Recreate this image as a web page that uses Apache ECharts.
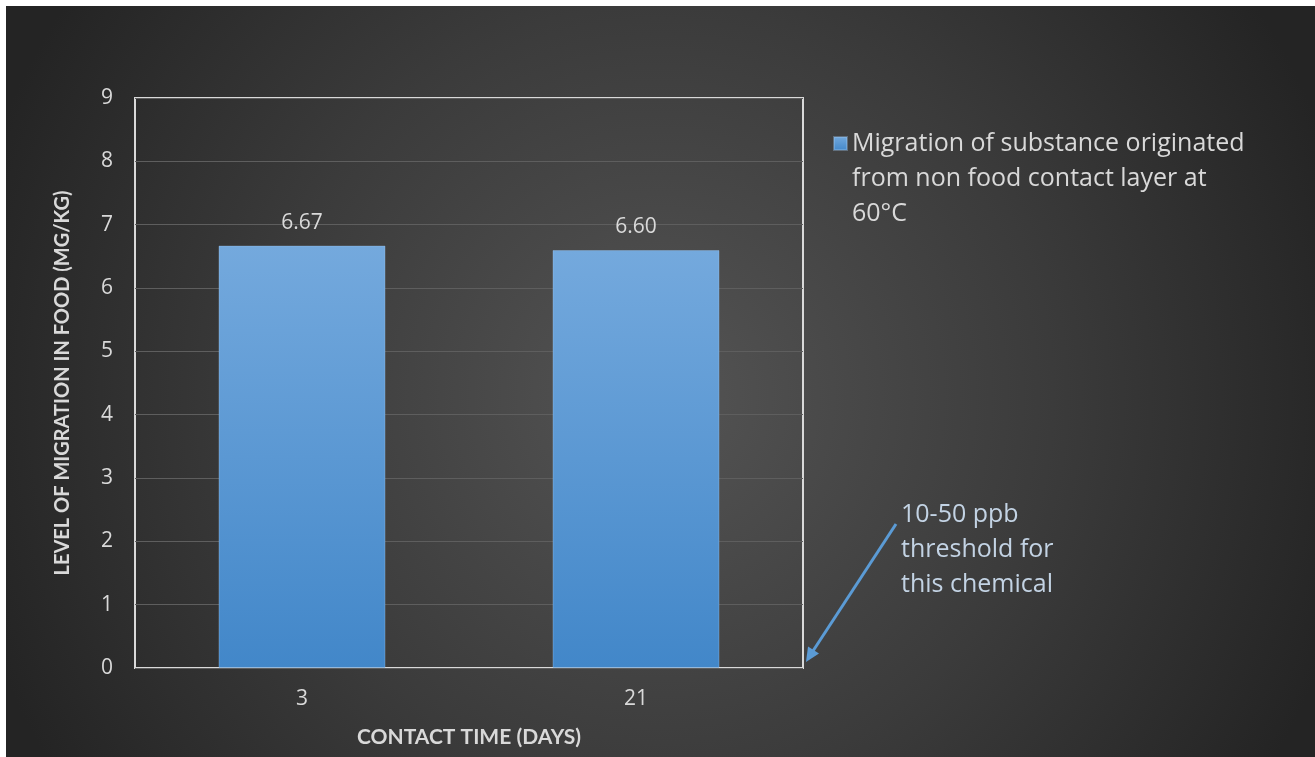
<!DOCTYPE html>
<html><head><meta charset="utf-8">
<script src="https://cdn.jsdelivr.net/npm/echarts@6/dist/echarts.min.js"></script>
<style>html,body{margin:0;padding:0;background:#fff}#c{width:1315px;height:757px}</style>
</head><body><div id="c"></div>
<script>
var categories = ['3', '21'];
var values = [6.67, 6.60];
var seriesName = 'Migration of substance originated from non food contact layer at 60°C';
var legendLines = ['Migration of substance originated', 'from non food contact layer at', '60°C'];
var yTicks = [0, 9, 1];
var annotationLines = ['10-50 ppb', 'threshold for', 'this chemical'];
var FONT = '"Open Sans", Lato, sans-serif';
var BFONT = 'Lato, "Open Sans", sans-serif';

var chart = echarts.init(document.getElementById('c'), null, {renderer: 'canvas'});
chart.setOption({
  backgroundColor: '#ffffff',
  animation: false,
  graphic: [
    {type: 'rect', z: -10, silent: true, shape: {x: 6, y: 6, width: 1309, height: 751},
     style: {fill: new echarts.graphic.RadialGradient(0.5, 0.52, 0.95, [
       {offset: 0, color: '#545454'}, {offset: 0.55, color: '#3b3b3b'}, {offset: 1, color: '#242424'}])}},
    {type: 'text', left: 901, top: 497, z: 10,
     style: {text: annotationLines.join('\n'), fill: '#c3d3e4', font: '25px ' + FONT, lineHeight: 35}},
    {type: 'line', z: 10, shape: {x1: 896, y1: 524, x2: 811, y2: 654},
     style: {stroke: '#5b9bd5', lineWidth: 3}},
    {type: 'polygon', z: 10, shape: {points: [[806, 662], [819, 653.6], [808, 646.5]]},
     style: {fill: '#5b9bd5'}}
  ],
  legend: {
    show: true, left: 833, top: 56, orient: 'vertical',
    itemWidth: 13, itemHeight: 13, itemGap: 7, icon: 'rect', padding: 0,
    formatter: function (n) { return '\n\n' + legendLines.join('\n'); },
    textStyle: {color: '#d9d9d9', fontSize: 25, fontFamily: FONT, lineHeight: 35}
  },
  grid: {left: 135, right: 512, top: 98, bottom: 89, show: true, borderColor: '#d9d9d9', borderWidth: 2, containLabel: false},
  xAxis: {
    type: 'category', data: categories,
    axisLine: {show: false}, axisTick: {show: false},
    axisLabel: {color: '#d9d9d9', fontSize: 21, fontFamily: FONT, margin: 21},
    name: 'CONTACT TIME (DAYS)', nameLocation: 'middle', nameGap: 59,
    nameTextStyle: {color: '#d9d9d9', fontSize: 21, fontWeight: 'bold', fontFamily: BFONT}
  },
  yAxis: {
    type: 'value', min: yTicks[0], max: yTicks[1], interval: yTicks[2],
    axisLine: {show: false}, axisTick: {show: false},
    axisLabel: {color: '#d9d9d9', fontSize: 21, fontFamily: FONT, margin: 22},
    splitLine: {lineStyle: {color: '#5e5e5e', width: 1}},
    name: 'LEVEL OF MIGRATION IN FOOD (MG/KG)', nameLocation: 'middle', nameGap: 62, nameRotate: 90,
    nameTextStyle: {color: '#d9d9d9', fontSize: 20, fontWeight: 'bold', fontFamily: BFONT}
  },
  series: [{
    name: seriesName, type: 'bar', data: values, barWidth: '50%',
    itemStyle: {color: new echarts.graphic.LinearGradient(0, 0, 0, 1, [
      {offset: 0, color: '#74a9dd'}, {offset: 1, color: '#4287c9'}]),
      borderColor: 'rgba(160,200,240,0.35)', borderWidth: 1},
    label: {show: true, position: 'top', distance: 12, color: '#d9d9d9', fontSize: 21, fontFamily: FONT,
      formatter: function (p) { return p.value.toFixed(2); }}
  }]
});
</script></body></html>
